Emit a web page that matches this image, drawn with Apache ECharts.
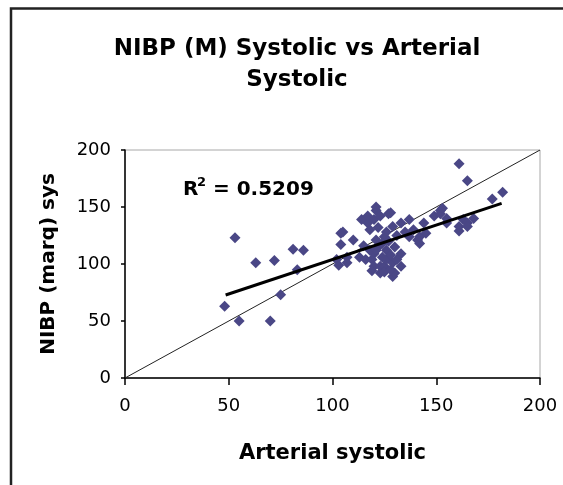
<!DOCTYPE html>
<html>
<head>
<meta charset="utf-8">
<script src="https://cdn.jsdelivr.net/npm/echarts@6/dist/echarts.min.js"></script>
<style>html,body{margin:0;padding:0;background:#fff;}#c{width:563px;height:485px;}</style>
</head>
<body>
<div id="c"></div>
<script>
// Scatter values: arterial systolic (x) vs NIBP (marq) sys (y)
const arterialSys = [48, 53, 55, 63, 70, 72, 75, 81, 83, 86,
  102, 103, 104, 104, 105, 107, 107, 110, 113, 114, 116, 117, 117, 118, 120, 120, 120, 121, 121, 121,
  123, 123, 123, 125, 125, 126, 126, 127, 128, 129, 129, 129, 130, 133, 133, 133, 137, 137, 139, 141,
  142, 142, 144, 145, 149, 152, 152, 153, 155, 155, 161, 161, 163, 165, 165, 168,
  118, 122, 124, 127, 130, 128, 115, 119, 131, 126, 122, 135,
  119, 125, 128, 131, 124, 121,
  161, 165, 177, 182];
const nibpSys = [63, 123, 50, 101, 50, 103, 73, 113, 95, 112,
  104, 99, 117, 127, 128, 101, 106, 121, 106, 139, 104, 136, 142, 130, 98, 109, 139, 121, 147, 150,
  92, 98, 142, 124, 98, 104, 112, 144, 145, 89, 101, 133, 92, 98, 109, 136, 124, 139, 130, 121,
  118, 124, 136, 127, 142, 144, 147, 149, 136, 140, 129, 133, 139, 136, 133, 140,
  112, 115, 118, 120, 115, 108, 116, 104, 125, 128, 132, 128,
  94, 93, 95, 104, 106, 112,
  188, 173, 157, 163];
// Linear trend line end points and the line of identity
const trendX = [48.5, 181.5];
const trendY = [72.8, 153.2];
const identityX = [0, 200];
const identityY = [0, 200];
// Axis ticks
const axisMin = 0, axisMax = 200, axisStep = 50;
const r2Label = '0.5209';

const scatterData = arterialSys.map((x, i) => [x, nibpSys[i]]);
const trendData = trendX.map((x, i) => [x, trendY[i]]);
const identityData = identityX.map((x, i) => [x, identityY[i]]);

const FONT = 'DejaVu Sans';
const chart = echarts.init(document.getElementById('c'), null, {renderer: 'canvas'});
chart.setOption({
  animation: false,
  backgroundColor: '#fff',
  title: {
    text: 'NIBP (M) Systolic vs Arterial\nSystolic',
    left: 297,
    textAlign: 'center',
    top: 34,
    padding: 0,
    textStyle: {fontFamily: FONT, fontSize: 23, fontWeight: 'bold', color: '#000', lineHeight: 31}
  },
  grid: {left: 125, right: 23, top: 150, bottom: 107, show: true, borderColor: '#a8a8a8', borderWidth: 1, backgroundColor: 'transparent'},
  xAxis: {
    type: 'value', min: axisMin, max: axisMax, interval: axisStep,
    name: 'Arterial systolic', nameLocation: 'middle', nameGap: 65,
    nameTextStyle: {fontFamily: FONT, fontSize: 21, fontWeight: 'bold', color: '#000'},
    axisLine: {show: true, lineStyle: {color: '#000', width: 1.5}},
    axisTick: {show: true, length: 7, lineStyle: {color: '#000', width: 1.5}},
    axisLabel: {margin: 19, fontFamily: FONT, fontSize: 18, color: '#000'},
    splitLine: {show: false}
  },
  yAxis: {
    type: 'value', min: axisMin, max: axisMax, interval: axisStep,
    name: 'NIBP (marq) sys', nameLocation: 'middle', nameGap: 66, nameRotate: 90,
    nameTextStyle: {fontFamily: FONT, fontSize: 20, fontWeight: 'bold', color: '#000'},
    axisLine: {show: true, lineStyle: {color: '#000', width: 1.5}},
    axisTick: {show: true, length: 4, lineStyle: {color: '#000', width: 1.5}},
    axisLabel: {margin: 14, fontFamily: FONT, fontSize: 18, color: '#000'},
    splitLine: {show: false}
  },
  series: [
    {type: 'line', data: identityData, symbol: 'none', lineStyle: {color: '#222', width: 1}, z: 3, silent: true},
    {type: 'scatter', data: scatterData, symbol: 'diamond', symbolSize: 11,
      itemStyle: {color: '#4a4786', opacity: 1}, z: 4},
    {type: 'line', data: trendData, symbol: 'none', lineStyle: {color: '#000', width: 3}, z: 5, silent: true}
  ],
  graphic: [
    {type: 'rect', shape: {x: 11, y: 8.5, width: 700, height: 600}, style: {fill: 'none', stroke: '#222', lineWidth: 2.5}, silent: true, z: 0},
    {type: 'text', left: 183, top: 180, style: {text: 'R', fontFamily: FONT, fontSize: 20, fontWeight: 'bold', fill: '#000'}},
    {type: 'text', left: 197, top: 176, style: {text: '2', fontFamily: FONT, fontSize: 13, fontWeight: 'bold', fill: '#000'}},
    {type: 'text', left: 206, top: 180, style: {text: ' = ' + r2Label, fontFamily: FONT, fontSize: 20, fontWeight: 'bold', fill: '#000'}}
  ]
});
</script>
</body>
</html>
